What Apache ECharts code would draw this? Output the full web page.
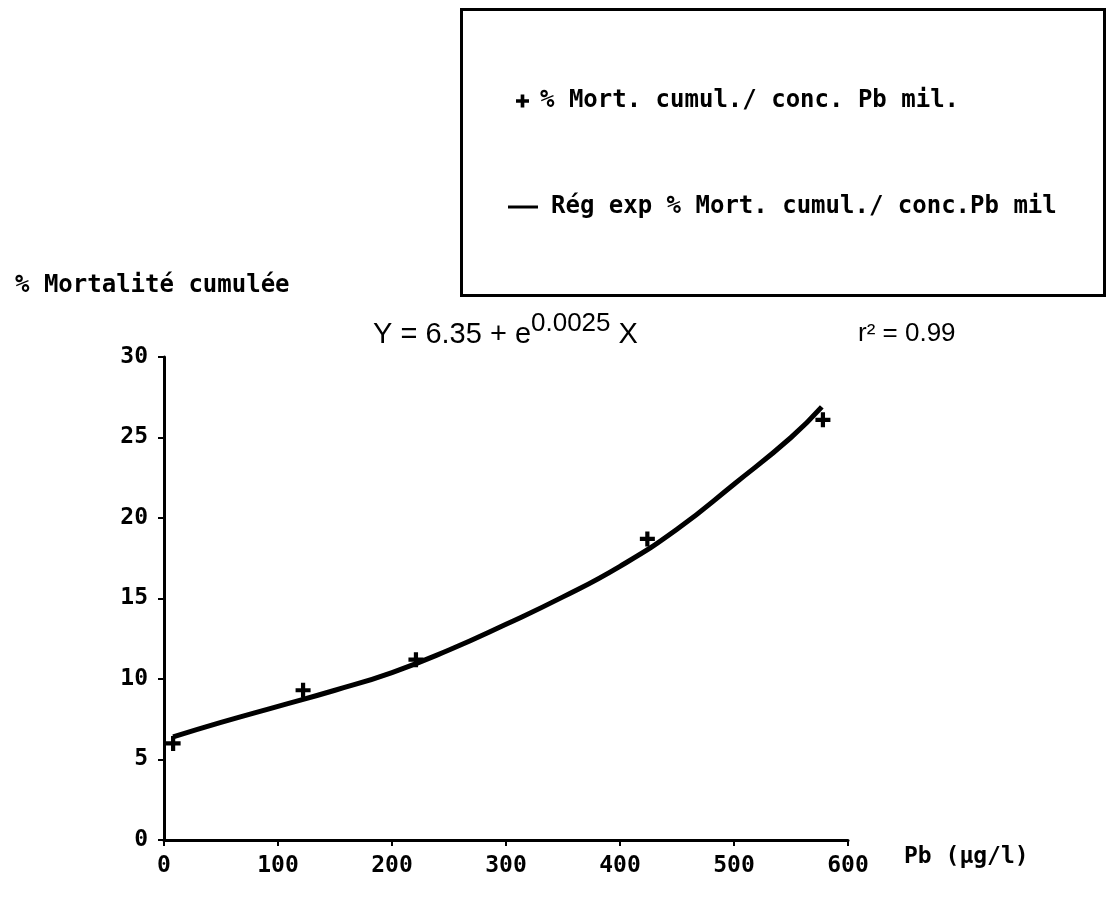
<!DOCTYPE html>
<html lang="fr">
<head>
    <meta charset="UTF-8">
    <title>Mortalité cumulée / Pb</title>
    <script src="https://cdn.jsdelivr.net/npm/echarts@6/dist/echarts.min.js"></script>
    <style>
        html, body { margin: 0; padding: 0; background: #fff; }
        #graph { width: 1106px; height: 908px; }
    </style>
</head>
<body>
<div id="graph"></div>
<script>
    // valeurs
    var pbConc = [8, 122, 221, 424, 578];
    var mortalite = [6.0, 9.3, 11.2, 18.7, 26.1];
    var regX = [8, 50, 100, 150, 200, 250, 300, 350, 400, 450, 500, 550, 577];
    var regY = [6.4, 7.3, 8.3, 9.3, 10.4, 11.8, 13.4, 15.1, 17.0, 19.3, 22.1, 25.0, 26.9];
    var xTicks = [0, 600, 100];
    var yTicks = [0, 30, 5];

    var nomPoints = '% Mort. cumul./ conc. Pb mil.';
    var nomReg = 'Rég exp % Mort. cumul./ conc.Pb mil';

    var mono = 'DejaVu Sans Mono';
    var plus = 'path://M3.6,0H6.4V3.6H10V6.4H6.4V10H3.6V6.4H0V3.6H3.6Z';

    var pts = [];
    for (var i = 0; i < pbConc.length; i++) pts.push([pbConc[i], mortalite[i]]);
    var reg = [];
    for (var j = 0; j < regX.length; j++) reg.push([regX[j], regY[j]]);

    var myChart = echarts.init(document.getElementById('graph'));
    var option = {
        backgroundColor: '#fff',
        animation: false,
        title: [
            {
                text: '% Mortalité cumulée',
                left: 10, top: 269,
                textStyle: { fontFamily: mono, fontWeight: 'bold', fontSize: 24, color: '#000' }
            },
            {
                text: '{a|Y = 6.35 + e}{s|0.0025}{a| X}',
                left: 368, top: 306,
                textStyle: {
                    fontWeight: 'normal',
                    rich: {
                        a: { fontFamily: 'Liberation Sans', fontWeight: 'normal', fontSize: 29, color: '#000', verticalAlign: 'bottom' },
                        s: { fontFamily: 'Liberation Sans', fontWeight: 'normal', fontSize: 26, color: '#000', padding: [0, 0, 12, 0], verticalAlign: 'bottom' }
                    }
                }
            },
            {
                text: 'r² = 0.99',
                left: 853, top: 316,
                textStyle: { fontFamily: 'Liberation Sans', fontWeight: 'normal', fontSize: 26, color: '#000' }
            }
        ],
        graphic: [
            {
                type: 'rect',
                left: 459, top: 7,
                shape: { width: 643, height: 286 },
                style: { fill: 'none', stroke: '#000', lineWidth: 3 }
            }
        ],
        legend: [
            {
                data: [{ name: nomPoints, icon: plus }],
                left: 511, top: 84,
                itemWidth: 13, itemHeight: 13,
                itemStyle: { color: '#000', opacity: 1 },
                textStyle: { fontFamily: mono, fontWeight: 'bold', fontSize: 24, color: '#000', padding: [0, 0, 0, 6] }
            },
            {
                data: [{ name: nomReg, icon: 'rect' }],
                left: 503, top: 190,
                itemWidth: 30, itemHeight: 3,
                textStyle: { fontFamily: mono, fontWeight: 'bold', fontSize: 24, color: '#000', padding: [0, 0, 0, 8] }
            }
        ],
        grid: { left: 164, right: 258, top: 357, bottom: 68 },
        xAxis: {
            type: 'value',
            min: xTicks[0], max: xTicks[1], interval: xTicks[2],
            name: 'Pb (µg/l)',
            nameLocation: 'end',
            nameGap: 56,
            nameTextStyle: { fontFamily: mono, fontWeight: 'bold', fontSize: 23, color: '#000', verticalAlign: 'top', padding: [6, 0, 0, 0] },
            axisLine: { lineStyle: { color: '#000', width: 3 } },
            axisTick: { show: true, length: 6, lineStyle: { color: '#000', width: 2 } },
            axisLabel: { margin: 15, fontFamily: mono, fontWeight: 'bold', fontSize: 23, color: '#000' },
            splitLine: { show: false }
        },
        yAxis: {
            type: 'value',
            min: yTicks[0], max: yTicks[1], interval: yTicks[2],
            axisLine: { show: true, lineStyle: { color: '#000', width: 3 } },
            axisTick: { show: true, length: 6, lineStyle: { color: '#000', width: 2 } },
            axisLabel: { margin: 16, fontFamily: mono, fontWeight: 'bold', fontSize: 23, color: '#000' },
            splitLine: { show: false }
        },
        series: [
            {
                name: nomReg,
                type: 'line',
                data: reg,
                smooth: true,
                showSymbol: false,
                symbol: 'none',
                lineStyle: { color: '#000', width: 5 },
                itemStyle: { color: '#000' },
                z: 2
            },
            {
                name: nomPoints,
                type: 'scatter',
                data: pts,
                symbol: plus,
                symbolSize: 15,
                itemStyle: { color: '#000', opacity: 1 },
                z: 3
            }
        ]
    };
    myChart.setOption(option);
</script>
</body>
</html>
